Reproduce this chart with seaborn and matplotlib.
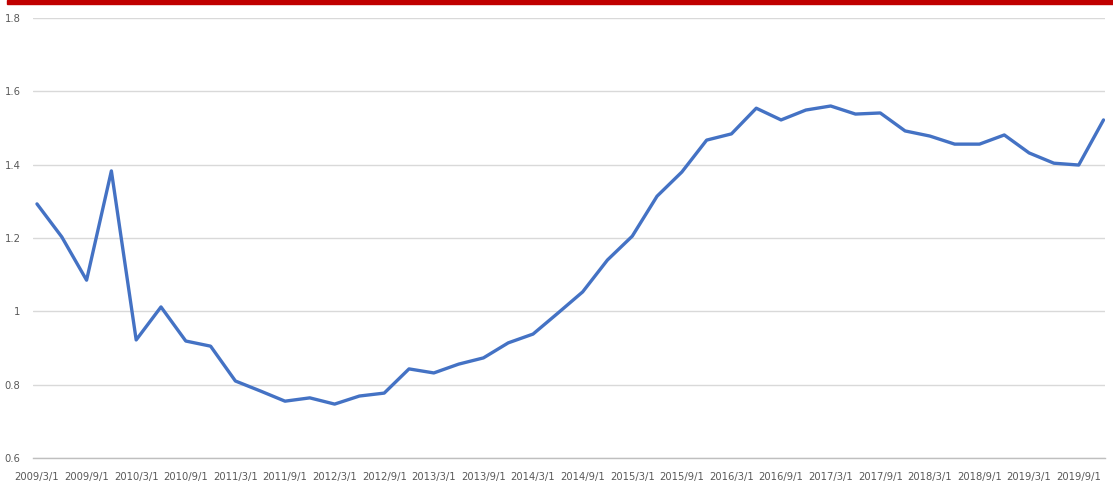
import matplotlib
matplotlib.use("Agg")
import matplotlib.pyplot as plt
from matplotlib.patches import Rectangle
from matplotlib.ticker import FuncFormatter
import pandas as pd
import seaborn as sns

# quarterly observations, 2009/3/1 .. 2019/12/1
dates = pd.date_range("2009-03-01", "2019-12-01", freq="3MS")
values = [1.293, 1.203, 1.085, 1.383, 0.922, 1.012, 0.919, 0.905,
          0.810, 0.783, 0.755, 0.764, 0.747, 0.769, 0.777, 0.843,
          0.832, 0.856, 0.873, 0.914, 0.938, 0.995, 1.053, 1.140,
          1.205, 1.314, 1.380, 1.467, 1.484, 1.554, 1.522, 1.549,
          1.560, 1.538, 1.541, 1.492, 1.478, 1.456, 1.456, 1.481,
          1.432, 1.404, 1.399, 1.522]
labels = [f"{d.year}/{d.month}/1" for d in dates]

df = pd.DataFrame({"pos": range(len(values)), "value": values, "label": labels})

sns.set_style("white")
plt.rcParams['font.family'] = ['DejaVu Sans']
plt.rcParams['font.stretch'] = 'condensed'

fig = plt.figure(figsize=(11.13, 4.92), dpi=100)
ax = fig.add_axes([33 / 1113, 1 - 458 / 492, (1105 - 33) / 1113, (458 - 18) / 492])

sns.lineplot(data=df, x="pos", y="value", ax=ax, color="#4472C4", linewidth=2.4)

ax.set_xlim(-0.16, 43.06)
ax.set_ylim(0.6, 1.8)
ax.set_yticks([0.6, 0.8, 1.0, 1.2, 1.4, 1.6, 1.8])
ax.yaxis.set_major_formatter(FuncFormatter(lambda v, p: f"{v:g}"))
ax.set_xticks(df["pos"][::2])
ax.set_xticklabels(df["label"][::2])

ax.grid(axis="y", color="#D9D9D9", linewidth=1)
ax.set_axisbelow(True)
for s in ["top", "right", "left"]:
    ax.spines[s].set_visible(False)
ax.spines["bottom"].set_color("#BFBFBF")
ax.spines["bottom"].set_linewidth(1)
ax.tick_params(axis="x", length=5, color="#BFBFBF", labelsize=8, labelcolor="#595959", pad=5)
ax.tick_params(axis="y", length=0, labelsize=8, labelcolor="#595959", pad=9)
for t in ax.get_xticklabels() + ax.get_yticklabels():
    t.set_fontstretch("condensed")
ax.set_xlabel("")
ax.set_ylabel("")

# red banner at the top
fig.patches.append(Rectangle((7 / 1113, 1 - 4 / 492), 1, 4 / 492, transform=fig.transFigure,
                             color="#C00000", zorder=5))

fig.savefig("out.png", dpi=100)
